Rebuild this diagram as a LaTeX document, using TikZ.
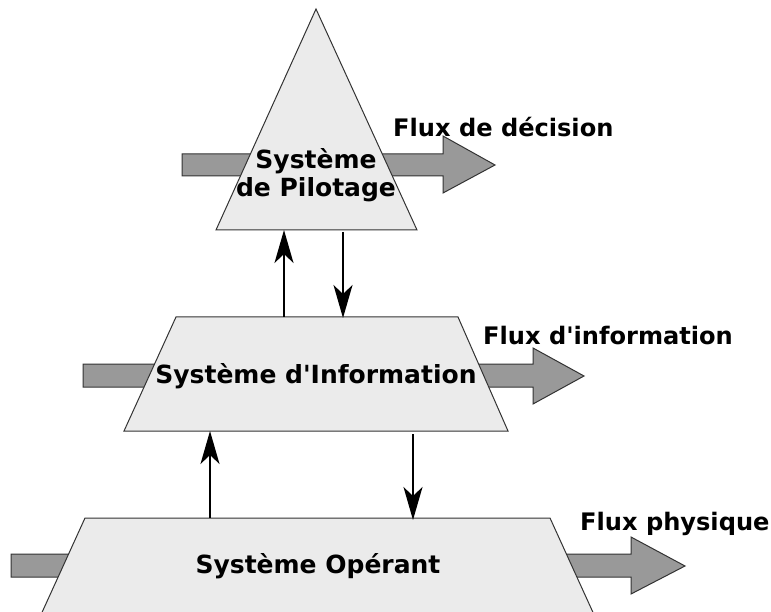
\documentclass[tikz,border=0pt]{standalone}
\usepackage{fontspec}
\setmainfont{DejaVu Sans}
\usetikzlibrary{arrows.meta}
\definecolor{shapefill}{RGB}{235,235,235}
\definecolor{flowfill}{RGB}{153,153,153}
\begin{document}
\begin{tikzpicture}[x=1pt,y=-1pt,
  layer/.style={draw=black!80, line width=1pt, fill=shapefill, line join=miter},
  flow/.style={draw=black!80, line width=1pt, fill=flowfill},
  link/.style={line width=2pt, -{Stealth[length=33pt,width=19pt,inset=9pt]}},
  lbl/.style={font=\fontsize{25}{28}\selectfont\bfseries, align=center, inner sep=0pt},
  flowlbl/.style={font=\fontsize{24.1}{28}\selectfont\bfseries, inner sep=0pt, anchor=west}]
\useasboundingbox (0,0) rectangle (771,612);
\begin{scope}
\clip (0,0) rectangle (771,612);
% flow arrows (behind the layers)
\draw[flow] (182,154) -- (443,154) -- (443,136) -- (495,165) -- (443,193) -- (443,176) -- (182,176) -- cycle;
\draw[flow] (83,364) -- (533,364) -- (533,348) -- (584,376) -- (533,404) -- (533,387) -- (83,387) -- cycle;
\draw[flow] (11,554) -- (631,554) -- (631,537) -- (685,566) -- (631,594) -- (631,577) -- (11,577) -- cycle;
% layers
\draw[layer] (316,9) -- (417,230) -- (216,230) -- cycle;
\draw[layer] (176,317) -- (458,317) -- (508,431) -- (124,431) -- cycle;
\draw[layer] (85,518) -- (550,518) -- (601,630) -- (34,630) -- cycle;
\end{scope}
% anchor points on the layers
\coordinate (triA) at (284,230);
\coordinate (triB) at (343,232);
\coordinate (infTopA) at (284,317);
\coordinate (infTopB) at (343,318);
\coordinate (infBotA) at (210,431);
\coordinate (infBotB) at (413,434);
\coordinate (opA) at (210,518);
\coordinate (opB) at (413,520);
% links
\draw[link] (infTopA) -- (triA);
\draw[link] (triB) -- (infTopB);
\draw[link] (opA) -- (infBotA);
\draw[link] (infBotB) -- (opB);
% labels
\node[lbl] (pilot) at (316,175) {Système\\de Pilotage};
\node[lbl] (info) at (316,376) {Système d\textquotesingle Information};
\node[lbl] (oper) at (318,566) {Système Opérant};
\node[flowlbl] (fdec) at (393,127) {Flux de décision};
\node[flowlbl] (finf) at (483,336) {Flux d\textquotesingle information};
\node[flowlbl] (fphy) at (580,524) {Flux physique};
\end{tikzpicture}
\end{document}
